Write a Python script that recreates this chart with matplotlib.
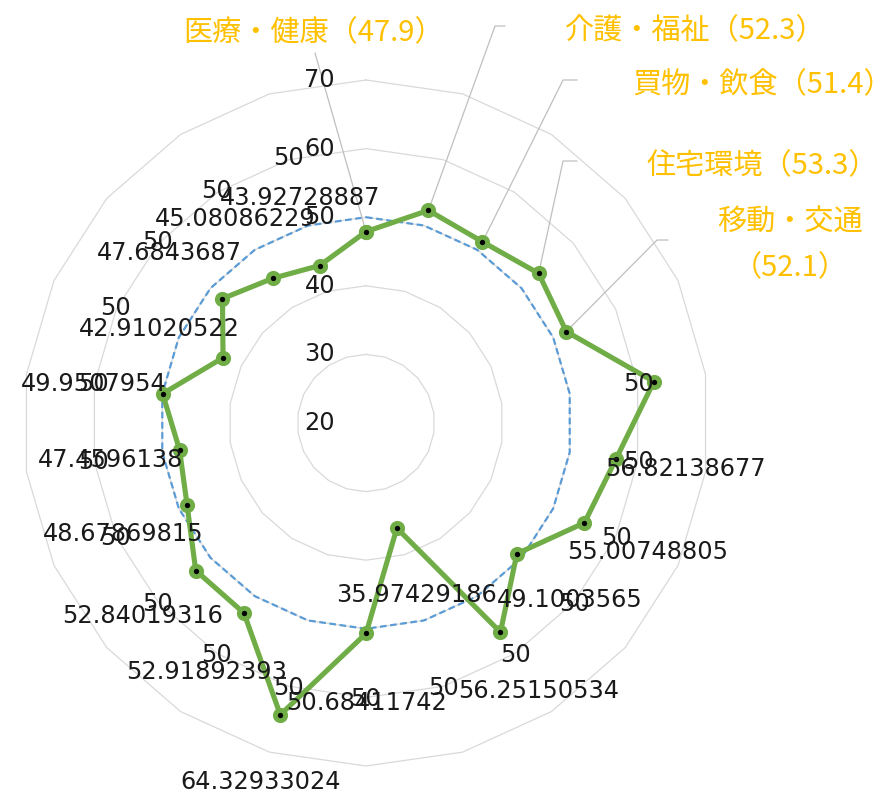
import numpy as np
import matplotlib
matplotlib.use("Agg")
import matplotlib.pyplot as plt

# ---------------- data ----------------
values = [47.9, 52.3, 51.4, 53.3, 52.1, 62.4,
          56.82138677, 55.00748805, 49.1003565, 56.25150534, 35.97429186,
          50.68411742, 64.32933024, 52.91892393, 52.84019316, 48.67869815,
          47.4596138, 49.9507954, 42.91020522, 47.6843687, 45.08086229,
          43.92728887]
reference = [50] * 22
ring_values = [30, 40, 50, 60, 70]
tick_values = [20, 30, 40, 50, 60, 70]
r_min, r_max = 20, 70
group_names = ["医療・健康", "介護・福祉", "買物・飲食", "住宅環境", "移動・交通"]
value_label_shown = [False] * 6 + [True] * 16
ref_label_shown = [False] * 5 + [True] * 17

# ---------------- style / layout ----------------
W, H = 879, 792
cx_px, cy_px, R_px = 366, 423, 343
GREEN = "#70AD47"
BLUE = "#5B9BD5"
GRID = "#D9D9D9"
LEADER = "#BFBFBF"
ORANGE = "#FFC000"
TXT = "#1a1a1a"
FS = 17.3
JP_FS = 21
label_shift = 10.2  # radial offset of data labels (data units)

# group label offsets (pixels from point, y up)
group_offsets = [(-52, 198.6), (266.6, 179.4), (280, 156.8), (223.4, 107.4), (223.7, 86)]
leader_starts = [(-51, 178.6), (76.6, 184.4), (94.6, 161.8), (38.4, 112.4), (101.7, 91.5)]
leader_corners = [(-51, 178.6), (66.6, 184.4), (80.6, 161.8), (24.4, 112.4), (90.7, 91.5)]

fig = plt.figure(figsize=(W / 100, H / 100), dpi=100)
fig.patch.set_facecolor("white")
ax = fig.add_axes([(cx_px - R_px) / W, 1 - (cy_px + R_px) / H, 2 * R_px / W, 2 * R_px / H],
                  projection="polar")
ax.set_theta_zero_location("N")
ax.set_theta_direction(-1)
ax.set_ylim(r_min, r_max)
ax.grid(False)
ax.set_xticks([])
ax.set_yticks([])
ax.spines["polar"].set_visible(False)
ax.patch.set_alpha(0)

n = len(values)
theta = np.linspace(0, 2 * np.pi, n, endpoint=False)
theta_c = np.append(theta, theta[0])

# polygon gridlines
for rv in ring_values:
    ax.plot(theta_c, [rv] * (n + 1), color=GRID, lw=0.9, zorder=1, clip_on=False)

# reference series
ref_c = reference + reference[:1]
ax.plot(theta_c, ref_c, color=BLUE, lw=1.6, ls=(0, (3, 1.6)), zorder=2, clip_on=False)

# main series
vals_c = values + values[:1]
ax.plot(theta_c, vals_c, color=GREEN, lw=3.7, marker="o", ms=7.4, mfc="black",
        mec=GREEN, mew=3.5, zorder=5, clip_on=False)

# axis tick labels
for tv in tick_values:
    ax.annotate(str(tv), xy=(0, tv), xytext=(-31, 0), textcoords="offset pixels",
                ha="right", va="center", fontsize=FS, color=TXT, zorder=6,
                annotation_clip=False)

# reference labels
for t, v, show in zip(theta, reference, ref_label_shown):
    if show:
        ax.text(t, v + label_shift, str(v), ha="center", va="center", fontsize=FS,
                color=TXT, zorder=7)

# value labels
for t, v, show in zip(theta, values, value_label_shown):
    if show:
        ax.text(t, v + label_shift, str(v), ha="center", va="center", fontsize=FS,
                color=TXT, zorder=7)

# group annotations with leader lines
for i, name in enumerate(group_names):
    t, v = theta[i], values[i]
    sx, sy = leader_starts[i]
    kx, ky = leader_corners[i]
    angB = np.degrees(np.arctan2(ky, kx))
    ax.annotate("", xy=(t, v), xytext=(sx, sy), textcoords="offset pixels",
                arrowprops=dict(arrowstyle="-", color=LEADER, lw=0.9, shrinkA=0, shrinkB=0,
                                connectionstyle=f"angle,angleA=0,angleB={angB:.2f},rad=0"),
                zorder=3, annotation_clip=False)
    sep = "\n" if i == 4 else ""
    label = f"{name}{sep}（{v:.1f}）"
    ox, oy = group_offsets[i]
    ax.annotate(label, xy=(t, v), xytext=(ox, oy), textcoords="offset pixels",
                ha="center", va="center", fontsize=JP_FS, color=ORANGE,
                family=["Noto Sans CJK JP", "DejaVu Sans"], linespacing=1.7,
                annotation_clip=False)

fig.savefig("out.png", dpi=100)
